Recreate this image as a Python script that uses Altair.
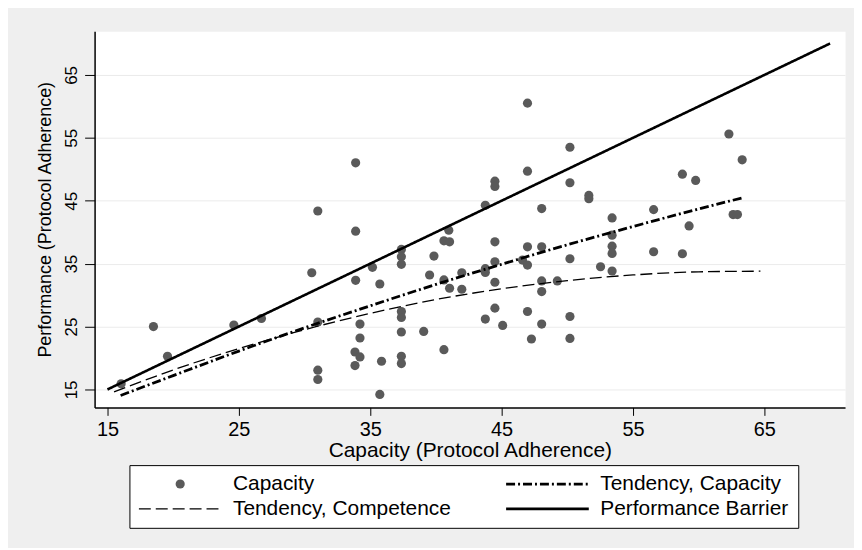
import math
import altair as alt
import pandas as pd

# Scatter: Capacity
cap_x = [16.04, 18.5, 19.57, 24.62, 26.72, 33.89, 31.01, 33.89, 30.55, 35.17,
         33.89, 35.73, 37.37, 37.37, 37.37, 31.01, 34.22, 34.22, 33.84, 34.22,
         33.84, 35.86, 31.01, 31.01, 35.73, 37.37, 37.37, 37.37, 37.37, 37.37,
         46.97, 46.97, 44.49, 44.49, 43.76, 40.98, 40.61, 41.04, 39.85, 44.49,
         46.97, 39.52, 40.61, 41.04, 41.97, 41.97, 43.76, 43.76, 44.49, 44.49,
         46.59, 46.97, 39.07, 40.61, 43.76, 44.49, 45.08, 46.97, 47.27, 50.2,
         50.2, 51.64, 51.64, 48.05, 53.41, 56.57, 48.05, 53.41, 53.41, 53.41,
         56.57, 50.2, 52.53, 53.41, 48.05, 49.24, 48.05, 48.05, 50.2, 50.2,
         62.3, 63.31, 58.76, 59.77, 62.62, 62.95, 59.27, 58.76]
cap_y = [15.9, 25.0, 20.27, 25.24, 26.28, 51.03, 43.37, 40.16, 33.56, 34.41,
         32.35, 31.77, 37.26, 36.1, 34.89, 25.71, 25.39, 23.18, 20.96, 20.17,
         18.8, 19.48, 18.06, 16.58, 14.21, 27.39, 26.44, 24.13, 20.27, 19.11,
         60.52, 49.7, 48.12, 47.28, 44.27, 40.32, 38.63, 38.47, 36.2, 38.47,
         37.68, 33.2, 32.41, 31.09, 33.56, 30.93, 34.2, 33.6, 35.3, 32.04,
         35.57, 34.78, 24.23, 21.33, 26.19, 27.93, 25.18, 27.39, 23.02, 53.5,
         47.86, 45.85, 45.33, 43.75, 42.27, 43.59, 37.68, 39.53, 37.78, 36.63,
         36.89, 35.78, 34.51, 33.83, 32.25, 32.25, 30.56, 25.39, 26.6, 23.12,
         55.61, 51.5, 49.23, 48.23, 42.8, 42.8, 41.0, 36.57]

# Fitted curves
tcap_x = [16, 20, 25, 30, 35, 40, 45, 50, 55, 60, 63.4]
tcap_y = [14.05, 17.2, 21.1, 24.8, 28.3, 31.7, 34.9, 38.0, 40.9, 43.7, 45.5]
tcomp_x = [15.5, 20, 25, 30, 35, 40, 45, 50, 55, 60, 64.7]
tcomp_y = [14.6, 18.1, 21.5, 24.5, 27.1, 29.3, 31.0, 32.3, 33.2, 33.7, 33.8]
barrier_x = [15, 70]
barrier_y = [15, 70]

series = ["Capacity", "Tendency, Capacity", "Tendency, Competence", "Performance Barrier"]
x_ticks = [15, 25, 35, 45, 55, 65]
y_ticks = [15, 25, 35, 45, 55, 65]

points = pd.DataFrame({"x": cap_x, "y": cap_y, "series": "Capacity"})
tcap = pd.DataFrame({"x": tcap_x, "y": tcap_y})
tcomp = pd.DataFrame({"x": tcomp_x, "y": tcomp_y})
barrier = pd.DataFrame({"x": barrier_x, "y": barrier_y})

FONT = "Liberation Sans"
DOT = "#5a5a5a"
DASHDOT = [9, 3, 2, 3]
DASHED = [12, 5]

# ---- legend line symbols as filled SVG paths (unit space, scaled by sqrt(size)/2)
LEG_SIZE = 6900
R = math.sqrt(LEG_SIZE) / 2.0
LEN = 2 * R


def bar_path(pattern, thickness):
    h = thickness / 2.0 / R
    parts = []
    pos, i = 0.0, 0
    while pos < LEN:
        seg = pattern[i % len(pattern)]
        if i % 2 == 0:
            a, b = pos, min(pos + seg, LEN)
            x0, x1 = a / R - 1, b / R - 1
            parts.append(f"M{x0:.4f},{-h:.4f}H{x1:.4f}V{h:.4f}H{x0:.4f}Z")
        pos += seg
        i += 1
    return "".join(parts)


shape_range = ["circle", bar_path(DASHDOT, 2.8), bar_path(DASHED, 1.4), bar_path([LEN], 2.6)]

xs = alt.Scale(domain=[14.02, 71.14], nice=False, zero=False)
ys = alt.Scale(domain=[12.15, 71.96], nice=False, zero=False)

x_axis = alt.Axis(values=x_ticks, title="Capacity (Protocol Adherence)", grid=False,
                  tickSize=8, labelPadding=4, titlePadding=0, labelFontSize=20,
                  titleFontSize=21, labelFont=FONT, titleFont=FONT,
                  titleFontWeight="normal", domainColor="black", domainWidth=1.5,
                  tickColor="black", labelColor="black", titleColor="black")
y_axis = alt.Axis(values=y_ticks, title="Performance (Protocol Adherence)", grid=True,
                  gridColor="#EBEBEB", gridWidth=1, tickSize=10, labelAngle=270,
                  labelFontSize=17, titleFontSize=18, labelPadding=4, titlePadding=8,
                  labelFont=FONT, titleFont=FONT, titleFontWeight="normal",
                  domainColor="black", domainWidth=1.5, tickColor="black",
                  labelColor="black", titleColor="black")

NBSP3 = "\u00a0\u00a0\u00a0"


def make_legend():
    return alt.Legend(
        title=None, orient="none", legendX=35, legendY=436, columns=2,
        direction="horizontal", columnPadding=54, rowPadding=4, padding=9,
        fillColor="white", strokeColor="black", symbolFillColor=DOT,
        symbolStrokeWidth=0, clipHeight=20, labelFontSize=21,
        labelFont=FONT, labelOffset=11, labelColor="black", labelLimit=400,
        labelExpr="datum.label === 'Performance Barrier' ? datum.label + '" + NBSP3 + "' : datum.label",
    )


color_scale = alt.Scale(domain=series, range=[DOT, "black", "black", "black"])
shape_scale = alt.Scale(domain=series, range=shape_range)
size_scale = alt.Scale(type="ordinal", domain=series, range=[85, LEG_SIZE, LEG_SIZE, LEG_SIZE])

pts = alt.Chart(points).mark_point(filled=True, opacity=1).encode(
    x=alt.X("x:Q", scale=xs, axis=x_axis),
    y=alt.Y("y:Q", scale=ys, axis=y_axis),
    color=alt.Color("series:N", scale=color_scale, legend=make_legend()),
    shape=alt.Shape("series:N", scale=shape_scale, legend=make_legend()),
    size=alt.Size("series:N", scale=size_scale, legend=make_legend()),
)


def line_layer(df, dash, width):
    return alt.Chart(df).mark_line(color="black", interpolate="monotone",
                                   strokeDash=dash, strokeWidth=width).encode(
        x=alt.X("x:Q", scale=xs),
        y=alt.Y("y:Q", scale=ys),
    )


chart = alt.layer(
    pts,
    line_layer(tcomp, DASHED, 1.3),
    line_layer(tcap, DASHDOT, 2.8),
    line_layer(barrier, [1, 0], 2.6),
).properties(
    width=754, height=378,
    padding={"left": 87, "top": 22, "right": 9, "bottom": 140},
    autosize=alt.AutoSizeParams(type="none"),
    background="#EFEFEF",
).configure_view(fill="white", stroke="transparent")

chart.save("out.html", embed_options={"renderer": "svg", "actions": False})
